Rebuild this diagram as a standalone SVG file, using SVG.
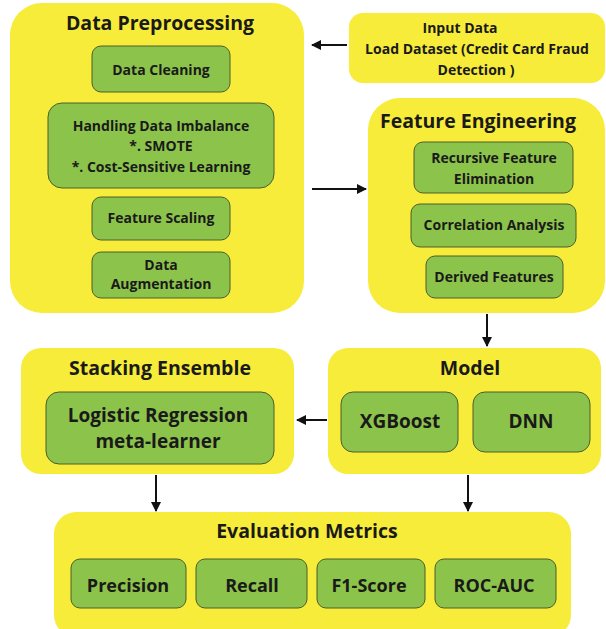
<svg xmlns="http://www.w3.org/2000/svg" width="606" height="629" viewBox="0 0 606 629">
<defs>
<style>
.y{fill:#f7ec3a}
.g{fill:#8cc34b;stroke:#4d5e2a;stroke-width:1}
.t{font-family:"Open Sans","Liberation Sans",sans-serif;font-weight:700;font-size:19.5px;fill:#1a1a1a;text-anchor:middle}
.s{font-family:"Open Sans","Liberation Sans",sans-serif;font-weight:700;font-size:14px;fill:#1a1a1a;text-anchor:middle}
.b{font-family:"Open Sans","Liberation Sans",sans-serif;font-weight:700;font-size:18px;fill:#1a1a1a;text-anchor:middle}
.m{font-family:"Open Sans","Liberation Sans",sans-serif;font-weight:700;font-size:19px;fill:#1a1a1a;text-anchor:middle}
.c{stroke:#111;stroke-width:2;fill:none;marker-end:url(#ah)}
</style>
<marker id="ah" viewBox="0 0 10 10" refX="9" refY="5" markerWidth="5" markerHeight="5" orient="auto"><path d="M0,0 L10,5 L0,10 z" fill="#111"/></marker>
</defs>
<rect width="606" height="629" fill="#ffffff"/>

<g id="preprocessing">
<rect class="y" x="10" y="3" width="294" height="310" rx="32"/>
<text class="t" x="160" y="30">Data Preprocessing</text>
<rect class="g" x="92" y="46" width="138" height="46" rx="9"/>
<text class="s" x="161" y="75">Data Cleaning</text>
<rect class="g" x="48" y="103" width="226" height="85" rx="14"/>
<text class="s" x="161" y="131">Handling Data Imbalance</text>
<text class="s" x="161" y="151">*. SMOTE</text>
<text class="s" x="161" y="172">*. Cost-Sensitive Learning</text>
<rect class="g" x="92" y="197" width="138" height="43" rx="9"/>
<text class="s" x="161" y="223">Feature Scaling</text>
<rect class="g" x="92" y="252" width="138" height="46" rx="9"/>
<text class="s" x="161" y="270">Data</text>
<text class="s" x="161" y="289">Augmentation</text>
</g>

<g id="input">
<rect class="y" x="349" y="13" width="256" height="70" rx="14"/>
<text class="s" x="460" y="33">Input Data</text>
<text class="s" x="477" y="54">Load Dataset (Credit Card Fraud</text>
<text class="s" x="476" y="75">Detection )</text>
</g>

<g id="feature-engineering">
<rect class="y" x="368" y="98" width="237" height="215" rx="32"/>
<text class="t" x="478" y="128">Feature Engineering</text>
<rect class="g" x="414" y="142" width="159" height="51" rx="9"/>
<text class="s" x="494" y="163">Recursive Feature</text>
<text class="s" x="494" y="184">Elimination</text>
<rect class="g" x="411" y="204" width="165" height="43" rx="9"/>
<text class="s" x="494" y="230">Correlation Analysis</text>
<rect class="g" x="426" y="256" width="137" height="42" rx="9"/>
<text class="s" x="494" y="282">Derived Features</text>
</g>

<g id="stacking">
<rect class="y" x="21" y="348" width="273" height="126" rx="20"/>
<text class="t" x="160" y="375">Stacking Ensemble</text>
<rect class="g" x="46" y="392" width="228" height="72" rx="13"/>
<text class="m" x="158" y="422">Logistic Regression</text>
<text class="m" x="158" y="448">meta-learner</text>
</g>

<g id="model">
<rect class="y" x="328" y="348" width="273" height="126" rx="20"/>
<text class="t" x="470" y="375">Model</text>
<rect class="g" x="341" y="392" width="117" height="60" rx="12"/>
<text class="m" x="400" y="428">XGBoost</text>
<rect class="g" x="473" y="392" width="117" height="60" rx="12"/>
<text class="m" x="531" y="428">DNN</text>
</g>

<g id="evaluation">
<rect class="y" x="54" y="512" width="517" height="125" rx="22"/>
<text class="t" x="307" y="538">Evaluation Metrics</text>
<rect class="g" x="71" y="559" width="115" height="49" rx="9"/>
<text class="b" x="128" y="592">Precision</text>
<rect class="g" x="196" y="559" width="111" height="49" rx="9"/>
<text class="b" x="252" y="592">Recall</text>
<rect class="g" x="317" y="559" width="108" height="49" rx="9"/>
<text class="b" x="369" y="592">F1-Score</text>
<rect class="g" x="435" y="559" width="121" height="49" rx="9"/>
<text class="b" x="494" y="592">ROC-AUC</text>
</g>

<g id="connectors">
<line class="c" x1="347" y1="45" x2="312" y2="45"/>
<line class="c" x1="312" y1="189" x2="366" y2="189"/>
<line class="c" x1="487" y1="314" x2="487" y2="346"/>
<line class="c" x1="327" y1="420" x2="297" y2="420"/>
<line class="c" x1="156" y1="475" x2="156" y2="511"/>
<line class="c" x1="468" y1="475" x2="468" y2="511"/>
</g>
</svg>
